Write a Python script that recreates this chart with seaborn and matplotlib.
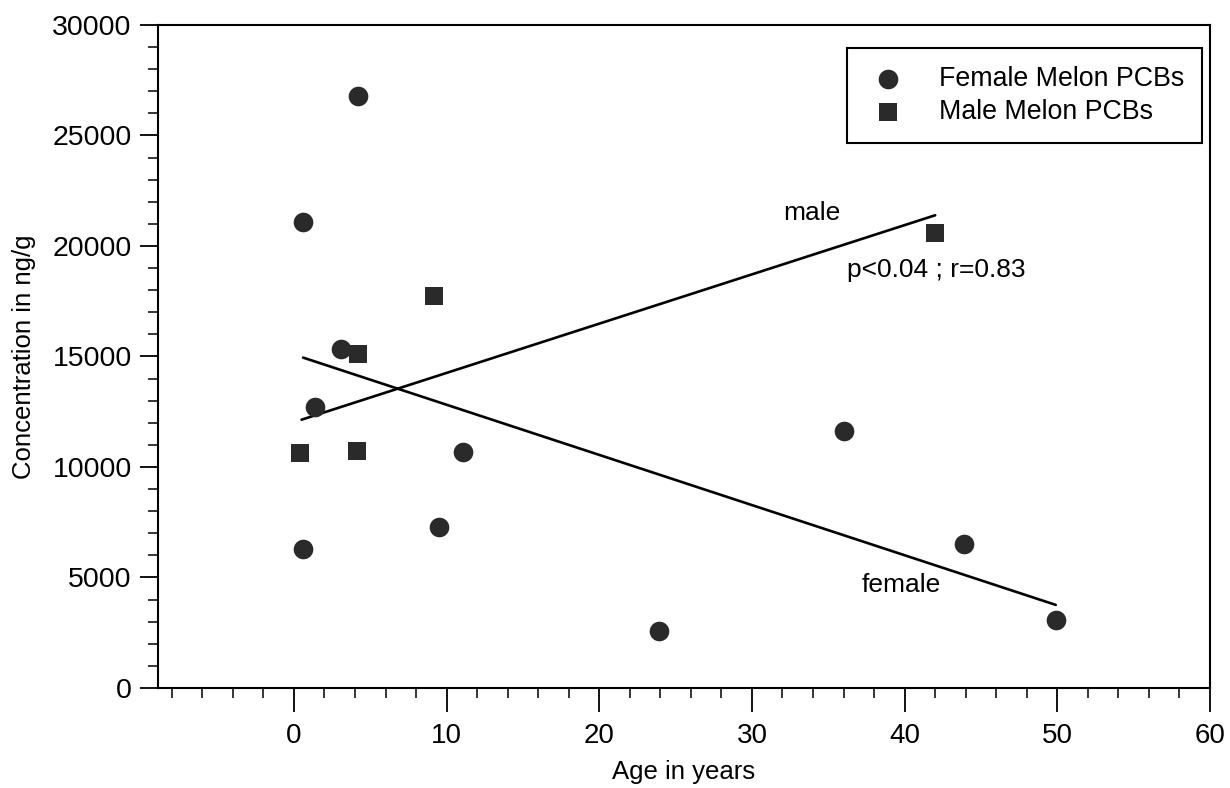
import numpy as np
import pandas as pd
import matplotlib
matplotlib.use("Agg")
import matplotlib.pyplot as plt
import seaborn as sns
from matplotlib.ticker import MultipleLocator

# Female melon PCB concentrations by age
female_age = [0.6, 0.6, 4.2, 3.1, 1.4, 11.1, 9.5, 23.9, 36.0, 43.9, 49.9]
female_conc = [6300, 21100, 26800, 15350, 12730, 10690, 7300, 2580, 11650, 6520, 3080]

# Male melon PCB concentrations by age
male_age = [0.4, 4.1, 9.2, 4.2, 42.0]
male_conc = [10650, 10740, 17720, 15130, 20570]

# Regression line end points
female_fit_age = [0.6, 49.9]
female_fit_conc = [14950, 3760]
male_fit_age = [0.5, 42.0]
male_fit_conc = [12140, 21390]

x_ticks = [0, 10, 20, 30, 40, 50, 60]
y_ticks = [0, 5000, 10000, 15000, 20000, 25000, 30000]

sns.set_theme(style="white")
plt.rcParams["font.family"] = ["Liberation Sans", "DejaVu Sans"]

df_f = pd.DataFrame({"age": female_age, "conc": female_conc})
df_m = pd.DataFrame({"age": male_age, "conc": male_conc})

fig = plt.figure(figsize=(12.3, 7.88), dpi=100)
ax = fig.add_axes([0.1285, 0.1269, 0.8552, 0.8414])

mark_col = "#2a2a2a"
sns.scatterplot(data=df_f, x="age", y="conc", marker="o", s=200, color=mark_col,
                edgecolor=mark_col, linewidth=0, label="Female Melon PCBs", ax=ax, zorder=3)
sns.scatterplot(data=df_m, x="age", y="conc", marker="s", s=155, color=mark_col,
                edgecolor=mark_col, linewidth=0, label="Male Melon PCBs", ax=ax, zorder=3)

ax.plot(female_fit_age, female_fit_conc, color="black", lw=1.9, zorder=2)
ax.plot(male_fit_age, male_fit_conc, color="black", lw=1.9, zorder=2)

ax.text(33.9, 21500, "male", fontsize=19, ha="center", va="center", color="black")
ax.text(42.1, 18900, "p<0.04 ; r=0.83", fontsize=19, ha="center", va="center", color="black")
ax.text(39.8, 4650, "female", fontsize=19, ha="center", va="center", color="black")

ax.set_xlim(-8.9, 60)
ax.set_ylim(0, 30000)
ax.set_xticks(x_ticks)
ax.set_yticks(y_ticks)
ax.xaxis.set_minor_locator(MultipleLocator(2))
ax.yaxis.set_minor_locator(MultipleLocator(1000))
ax.tick_params(axis="both", which="major", direction="out", length=13, width=1.3,
               colors="black", bottom=True, left=True, pad=6)
ax.tick_params(axis="both", which="minor", direction="out", length=7, width=1.3,
               bottom=True, left=True)
ax.tick_params(axis="y", which="major", labelsize=20.5)
ax.tick_params(axis="x", which="major", length=17, pad=8, labelsize=20)

for sp in ax.spines.values():
    sp.set_color("black")
    sp.set_linewidth(1.5)

ax.set_xlabel("Age in years", fontsize=18.5, labelpad=8, color="black")
ax.set_ylabel("Concentration in ng/g", fontsize=18.5, labelpad=12, color="black")

leg = ax.legend(loc="upper right", bbox_to_anchor=(0.9924, 0.965), fontsize=19.3,
                frameon=True, fancybox=False, edgecolor="black", framealpha=1,
                borderpad=0.65, handletextpad=1.0, labelspacing=0.28, borderaxespad=0,
                handlelength=1.8)
leg.get_frame().set_linewidth(1.5)
for t in leg.get_texts():
    t.set_color("black")

fig.savefig("out.png", dpi=100)
